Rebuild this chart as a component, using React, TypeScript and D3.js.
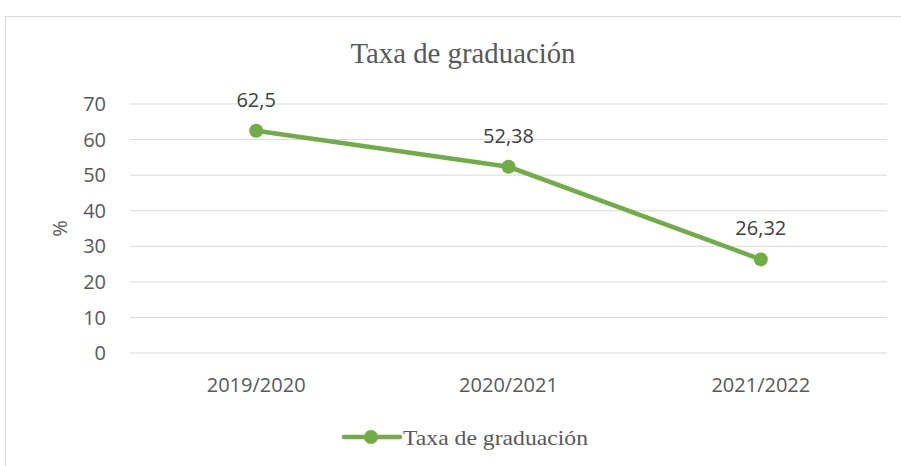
import React from "react";
import * as d3 from "d3";

const categories = ["2019/2020", "2020/2021", "2021/2022"];
const values = [62.5, 52.38, 26.32];
const valueLabels = ["62,5", "52,38", "26,32"];
const yTicks = [0, 10, 20, 30, 40, 50, 60, 70];
const seriesName = "Taxa de graduación";

const W = 901;
const H = 466;
const plot = { left: 130, right: 887, top: 104, bottom: 353 };
const green = "#70AD47";
const textGray = "#595959";
const sans = "'Open Sans', 'Noto Sans', sans-serif";
const serif = "'Liberation Serif', 'DejaVu Serif', serif";

export default function App() {
  const x = d3.scaleBand<string>().domain(categories).range([plot.left, plot.right]);
  const y = d3.scaleLinear().domain([0, 70]).range([plot.bottom, plot.top]);
  const cx = (c: string) => (x(c) ?? 0) + x.bandwidth() / 2;

  const line = d3
    .line<number>()
    .x((_, i) => cx(categories[i]))
    .y((d) => y(d));

  return (
    <svg
      width={W}
      height={H}
      style={{ position: "absolute", left: 0, top: 0, background: "#fff" }}
    >
      <rect x={5.5} y={16.5} width={W + 10} height={H + 10} fill="#fff" stroke="#d9d9d9" strokeWidth={1} />
      <text x={463} y={63} textAnchor="middle" fontFamily={serif} fontSize={29} fill={textGray} textLength={225} lengthAdjust="spacingAndGlyphs">
        {seriesName}
      </text>

      {yTicks.map((t) => (
        <g key={t}>
          <line x1={plot.left} x2={plot.right} y1={y(t)} y2={y(t)} stroke="#d9d9d9" strokeWidth={1} />
          <text x={106} y={y(t)} dy="0.36em" textAnchor="end" fontFamily={sans} fontSize={20} fill={textGray}>
            {t}
          </text>
        </g>
      ))}

      <text
        transform={`translate(60,${(plot.top + plot.bottom) / 2}) rotate(-90)`}
        textAnchor="middle"
        dy="0.36em"
        fontFamily={sans}
        fontSize={20}
        fill={textGray}
      >
        %
      </text>

      {categories.map((c) => (
        <text key={c} x={cx(c)} y={385} dy="0.36em" textAnchor="middle" fontFamily={sans} fontSize={20} fill={textGray}>
          {c}
        </text>
      ))}

      <path d={line(values) ?? ""} fill="none" stroke={green} strokeWidth={4.5} strokeLinejoin="round" strokeLinecap="round" />
      {values.map((v, i) => (
        <g key={i}>
          <circle cx={cx(categories[i])} cy={y(v)} r={7} fill={green} />
          <text x={cx(categories[i])} y={y(v) - 24} textAnchor="middle" fontFamily={sans} fontSize={20} fill="#404040">
            {valueLabels[i]}
          </text>
        </g>
      ))}

      <g>
        <line x1={344} x2={400} y1={437} y2={437} stroke={green} strokeWidth={4.5} strokeLinecap="round" />
        <circle cx={371} cy={437} r={7} fill={green} />
        <text x={403} y={445} fontFamily={serif} fontSize={21} fill={textGray} textLength={185} lengthAdjust="spacingAndGlyphs">
          {seriesName}
        </text>
      </g>
    </svg>
  );
}
